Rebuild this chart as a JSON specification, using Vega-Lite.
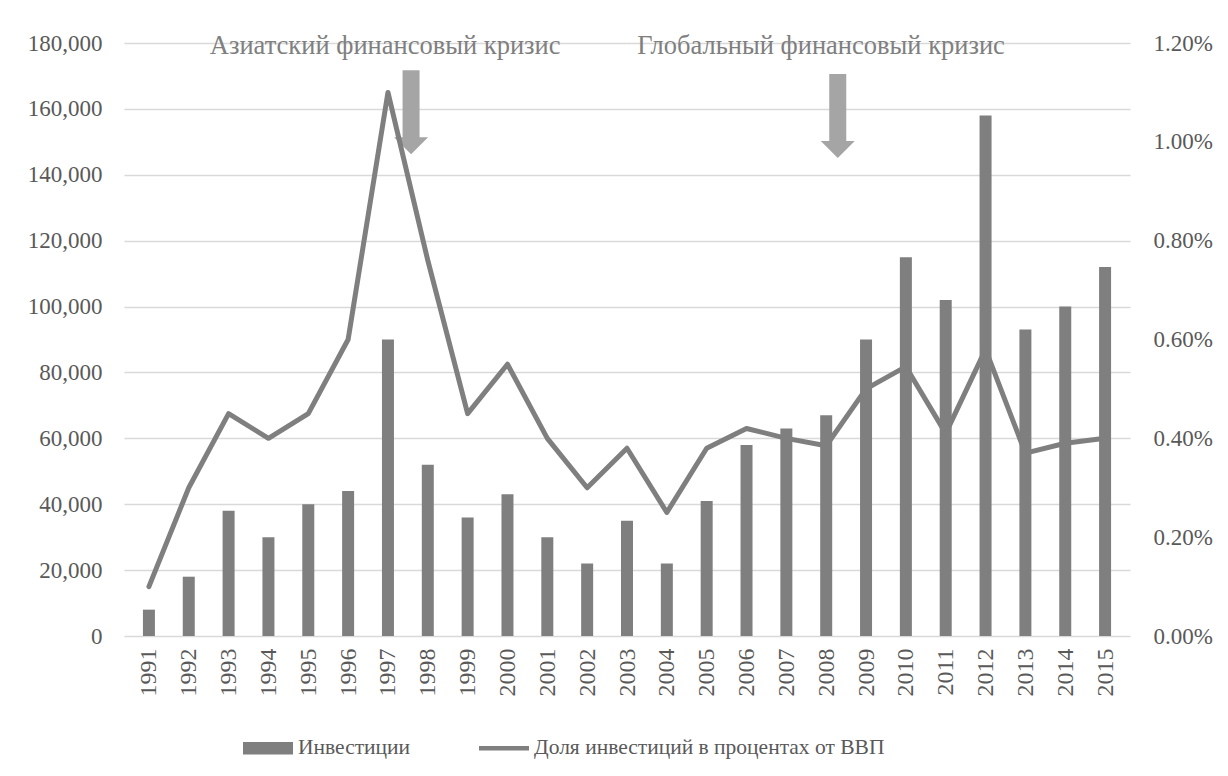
{
  "$schema": "https://vega.github.io/schema/vega-lite/v6.json",
  "width": 1006,
  "height": 593,
  "autosize": {"type": "none"},
  "padding": {"left": 124, "top": 43, "right": 98, "bottom": 140},
  "background": "white",
  "config": {
    "view": {"stroke": null},
    "font": "Liberation Serif",
    "axis": {"labelFont": "Liberation Serif", "labelFontSize": 23, "labelColor": "#595959", "domain": false, "ticks": false, "title": null}
  },
  "datasets": {
    "main": [
      {"year": 1991, "inv": 8000, "share": 0.0010},
      {"year": 1992, "inv": 18000, "share": 0.0030},
      {"year": 1993, "inv": 38000, "share": 0.0045},
      {"year": 1994, "inv": 30000, "share": 0.0040},
      {"year": 1995, "inv": 40000, "share": 0.0045},
      {"year": 1996, "inv": 44000, "share": 0.0060},
      {"year": 1997, "inv": 90000, "share": 0.0110},
      {"year": 1998, "inv": 52000, "share": 0.0076},
      {"year": 1999, "inv": 36000, "share": 0.0045},
      {"year": 2000, "inv": 43000, "share": 0.0055},
      {"year": 2001, "inv": 30000, "share": 0.0040},
      {"year": 2002, "inv": 22000, "share": 0.0030},
      {"year": 2003, "inv": 35000, "share": 0.0038},
      {"year": 2004, "inv": 22000, "share": 0.0025},
      {"year": 2005, "inv": 41000, "share": 0.0038},
      {"year": 2006, "inv": 58000, "share": 0.0042},
      {"year": 2007, "inv": 63000, "share": 0.0040},
      {"year": 2008, "inv": 67000, "share": 0.00385},
      {"year": 2009, "inv": 90000, "share": 0.0050},
      {"year": 2010, "inv": 115000, "share": 0.00545},
      {"year": 2011, "inv": 102000, "share": 0.0041},
      {"year": 2012, "inv": 158000, "share": 0.0058},
      {"year": 2013, "inv": 93000, "share": 0.0037},
      {"year": 2014, "inv": 100000, "share": 0.0039},
      {"year": 2015, "inv": 112000, "share": 0.0040}
    ],
    "notes": [
      {"x": 1996.93, "y": 179000, "label": "Азиатский финансовый кризис"},
      {"x": 2007.87, "y": 179000, "label": "Глобальный финансовый кризис"}
    ],
    "arrows": [
      {"x": 1997.58, "y": 151400},
      {"x": 2008.29, "y": 150240}
    ]
  },
  "layer": [
    {
      "layer": [
        {
          "data": {"name": "main"},
          "mark": {"type": "bar", "size": 12},
          "encoding": {
            "x": {"field": "year", "type": "quantitative",
                  "scale": {"domain": [1990.5, 2015.5], "nice": false, "zero": false},
                  "axis": {"values": [1991,1992,1993,1994,1995,1996,1997,1998,1999,2000,2001,2002,2003,2004,2005,2006,2007,2008,2009,2010,2011,2012,2013,2014,2015], "format": "d", "labelAngle": 270, "grid": false, "labelPadding": 12, "labelFont": "Liberation Serif", "labelFontSize": 24}},
            "y": {"field": "inv", "type": "quantitative",
                  "scale": {"domain": [0, 180000], "nice": false},
                  "axis": {"values": [0,20000,40000,60000,80000,100000,120000,140000,160000,180000], "format": ",.0f", "grid": true, "gridColor": "#d9d9d9", "gridWidth": 1.3, "labelPadding": 22, "labelFont": "Liberation Serif", "labelFontSize": 23}},
            "color": {"datum": "Инвестиции", "type": "nominal",
                      "scale": {"domain": ["Инвестиции", "Доля инвестиций в процентах от ВВП"], "range": ["#7f7f7f", "#7f7f7f"]},
                      "legend": {"orient": "none", "legendX": 119, "legendY": 680, "direction": "horizontal", "title": null,
                                 "labelFont": "Liberation Serif", "labelFontSize": 21.5, "labelColor": "#595959", "labelLimit": 600,
                                 "symbolSize": 2500, "labelOffset": 5, "columnPadding": 68,
                                 "encode": {"symbols": {"update": {"shape": {"signal": "datum.value === 'Инвестиции' ? 'M-1,-0.25H1V0.25H-1Z' : 'M-1,-0.09H1V0.09H-1Z'"}, "fill": {"value": "#7f7f7f"}, "stroke": {"value": "transparent"}, "strokeWidth": {"value": 0}}}}}}
          }
        },
        {
          "data": {"name": "notes"},
          "mark": {"type": "text", "font": "Liberation Serif", "fontSize": 26.5, "color": "#7f7f7f", "baseline": "middle", "align": "center"},
          "encoding": {
            "x": {"field": "x", "type": "quantitative"},
            "y": {"field": "y", "type": "quantitative"},
            "text": {"field": "label"}
          }
        },
        {
          "data": {"name": "arrows"},
          "mark": {"type": "point", "shape": "M-0.5,-3.94L0.5,-3.94L0.5,0L1,0L0,1L-1,0L-0.5,0Z", "size": 1156, "filled": true, "color": "#a5a5a5", "opacity": 1, "strokeWidth": 0},
          "encoding": {
            "x": {"field": "x", "type": "quantitative"},
            "y": {"field": "y", "type": "quantitative"}
          }
        }
      ]
    },
    {
      "data": {"name": "main"},
      "mark": {"type": "line", "strokeWidth": 5, "strokeJoin": "round", "strokeCap": "round"},
      "encoding": {
        "x": {"field": "year", "type": "quantitative"},
        "y": {"field": "share", "type": "quantitative",
              "scale": {"domain": [0, 0.012], "nice": false},
              "axis": {"orient": "right", "values": [0,0.002,0.004,0.006,0.008,0.010,0.012], "format": ".2%", "grid": false, "labelPadding": 23, "labelFont": "Liberation Serif", "labelFontSize": 23}},
        "color": {"datum": "Доля инвестиций в процентах от ВВП", "type": "nominal",
                  "legend": {"orient": "none", "legendX": 119, "legendY": 680, "direction": "horizontal", "title": null,
                             "labelFont": "Liberation Serif", "labelFontSize": 21.5, "labelColor": "#595959", "labelLimit": 600,
                             "symbolSize": 2500, "labelOffset": 5, "columnPadding": 68,
                             "encode": {"symbols": {"update": {"shape": {"signal": "datum.value === 'Инвестиции' ? 'M-1,-0.25H1V0.25H-1Z' : 'M-1,-0.09H1V0.09H-1Z'"}, "fill": {"value": "#7f7f7f"}, "stroke": {"value": "transparent"}, "strokeWidth": {"value": 0}}}}}}
      }
    }
  ],
  "resolve": {"scale": {"y": "independent"}}
}
